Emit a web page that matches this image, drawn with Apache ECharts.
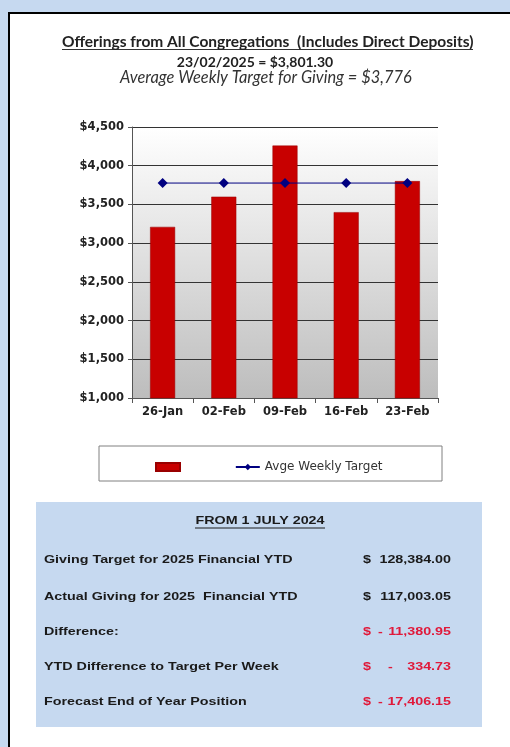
<!DOCTYPE html>
<html><head><meta charset="utf-8">
<script src="https://cdn.jsdelivr.net/npm/echarts@6/dist/echarts.min.js"></script>
<style>html,body{margin:0;padding:0;background:#c6d9f0;}#c{width:510px;height:747px;}</style>
</head><body><div id="c"></div>
<script>
const categories = ['26-Jan','02-Feb','09-Feb','16-Feb','23-Feb'];
const offerings = [3210, 3600, 4260, 3400, 3801.30];
const weeklyTarget = [3776, 3776, 3776, 3776, 3776];
const infoLabels = ['Giving Target for 2025 Financial YTD','Actual Giving for 2025  Financial YTD','Difference:','YTD Difference to Target Per Week','Forecast End of Year Position'];
const infoSigns = ['', '', '-', '-', '-'];
const infoValues = ['128,384.00','117,003.05','11,380.95','334.73','17,406.15'];
const infoNegative = [false,false,true,true,true];

const chart = echarts.init(document.getElementById('c'));
const rowY = [560, 597, 632, 667, 702];
const F = 'bold 11px "Liberation Sans", Arial';
const SX = 1.3;
const graphics = [
  {type:'rect', shape:{x:9,y:13,width:510,height:740}, style:{fill:'#ffffff', stroke:'#000', lineWidth:2}, z:-10},
  {type:'rect', shape:{x:99,y:446,width:343,height:35}, style:{fill:'#ffffff', stroke:'#808080', lineWidth:1}, z:-5},
  {type:'rect', shape:{x:36,y:502,width:446,height:225}, style:{fill:'#c6d9f0', stroke:null}, z:-5},
  {type:'text', x:260, y:521, scaleX:SX, style:{x:0,y:0,text:'FROM 1 JULY 2024', font:F, fill:'#1a1a1a', textAlign:'center', textVerticalAlign:'middle'}},
  {type:'line', shape:{x1:195,y1:528,x2:325,y2:528}, style:{stroke:'#1a1a1a', lineWidth:1}},
  {type:'line', shape:{x1:62,y1:49.5,x2:473,y2:49.5}, style:{stroke:'#333',lineWidth:1}}
];
infoLabels.forEach((t,i)=>{
  graphics.push({type:'text', x:44, y:rowY[i], scaleX:SX, style:{x:0,y:0,text:t, font:F, fill:'#1a1a1a', textVerticalAlign:'middle'}});
  const col = infoNegative[i] ? '#e0193a' : '#1a1a1a';
  graphics.push({type:'text', x:363, y:rowY[i], scaleX:SX, style:{x:0,y:0,text:'$', font:F, fill:col, textVerticalAlign:'middle'}});
  if (infoSigns[i]) graphics.push({type:'text', x:(i===3?388:378), y:rowY[i], scaleX:SX, style:{x:0,y:0,text:infoSigns[i], font:F, fill:col, textVerticalAlign:'middle'}});
  graphics.push({type:'text', x:451, y:rowY[i], scaleX:SX, style:{x:0,y:0,text:infoValues[i], font:F, fill:col, textAlign:'right', textVerticalAlign:'middle'}});
});

const axisFont = '"DejaVu Sans", Arial';
chart.setOption({
  backgroundColor:'transparent',
  animation:false,
  title:[
    {text:'Offerings from All Congregations  (Includes Direct Deposits)', left:57, top:29,
     textStyle:{fontFamily:'Lato, "Open Sans", sans-serif', fontWeight:'bold', fontSize:15.5, color:'#222'}},
    {text:'23/02/2025 = $3,801.30', left:'center', top:50,
     textStyle:{fontFamily:'Lato, sans-serif', fontWeight:'bold', fontSize:14, color:'#222'}},
    {text:'Average Weekly Target for Giving = $3,776', left:115, top:65,
     textStyle:{fontFamily:'Lato, "Open Sans", sans-serif', fontStyle:'italic', fontWeight:'normal', fontSize:16.4, color:'#333'}}
  ],
  graphic:graphics,
  grid:{left:132, top:127, width:306, height:271, show:true, borderWidth:0,
    backgroundColor:{type:'linear',x:0,y:0,x2:0,y2:1,colorStops:[{offset:0,color:'#ffffff'},{offset:1,color:'#bdbdbd'}]}},
  legend:{left:150, top:456, itemGap:46, itemWidth:24, itemHeight:8,
    textStyle:{fontFamily:axisFont, fontSize:12, color:'#333'},
    data:[{name:' ', icon:'rect'},{name:'Avge Weekly Target'}]},
  xAxis:{type:'category', data:categories,
    axisLine:{lineStyle:{color:'#555'}}, axisTick:{show:true, length:5, lineStyle:{color:'#555'}},
    axisLabel:{fontFamily:axisFont, fontWeight:'bold', fontSize:11.5, color:'#222', margin:8}},
  yAxis:{type:'value', min:1000, max:4500, interval:500,
    axisLine:{show:true, lineStyle:{color:'#555'}}, axisTick:{show:true, length:4, lineStyle:{color:'#555'}},
    splitLine:{lineStyle:{color:'#333', width:1}},
    axisLabel:{fontFamily:axisFont, fontWeight:'bold', fontSize:11.5, color:'#222', margin:8,
      formatter:v=>'$'+v.toLocaleString('en-US')}},
  series:[
    {name:' ', type:'bar', data:offerings, barWidth:25, itemStyle:{color:'#c80000', borderColor:'#990000', borderWidth:0.5}},
    {name:'Avge Weekly Target', type:'line', data:weeklyTarget, symbol:'diamond', symbolSize:10,
     lineStyle:{color:'#000080', width:1}, itemStyle:{color:'#000080'}}
  ]
});
</script></body></html>
